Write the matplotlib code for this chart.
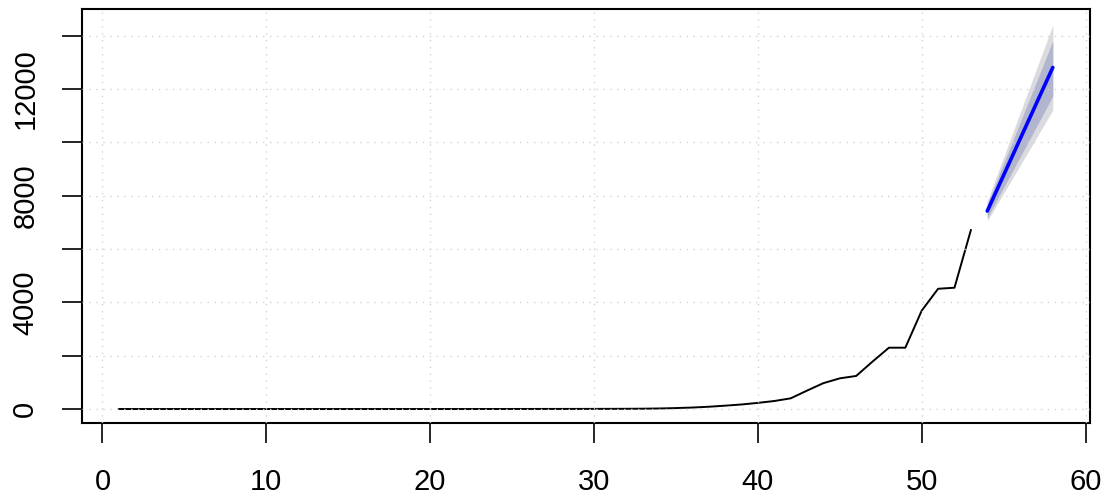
import matplotlib
matplotlib.use("Agg")
import matplotlib.pyplot as plt
import numpy as np

# observed series (time index 1..53)
obs_t = list(range(1, 54))
obs_y = [0, 0, 0, 0, 0, 0, 0, 0, 0, 0,
         0, 0, 0, 0, 0, 0, 0, 0, 0, 0,
         0, 0, 1, 1, 2, 2, 3, 3, 4, 5,
         6, 8, 12, 20, 35, 55, 85, 125, 170, 230,
         300, 400, 690, 970, 1150, 1240, 1780, 2300, 2300, 3690,
         4510, 4550, 6710]

# forecast (time index 54..58)
fc_t = [54, 55, 56, 57, 58]
fc_mean = [7425, 8770, 10120, 11465, 12810]
lo80 = [7170, 8310, 9450, 10590, 11740]
hi80 = [7680, 9210, 10740, 12270, 13810]
lo95 = [7050, 8090, 9130, 10170, 11210]
hi95 = [7800, 9450, 11100, 12750, 14400]

x_ticks = [0, 10, 20, 30, 40, 50, 60]
y_ticks = list(range(0, 14001, 2000))
y_labels = ["0" if v == 0 else (str(v) if v % 4000 == 0 else "") for v in y_ticks]

plt.rcParams['font.family'] = ['Liberation Sans', 'DejaVu Sans']

fig = plt.figure(figsize=(11.09, 4.98), dpi=100)
ax = fig.add_axes([0.0735, 0.150, 0.9095, 0.831])

ax.fill_between(fc_t, lo95, hi95, color='#DBDBDF', linewidth=0, zorder=1)
ax.fill_between(fc_t, lo80, hi80, color='#B1B5CD', linewidth=0, zorder=2)
ax.plot(obs_t, obs_y, color='black', lw=1.4, zorder=3)

# grid drawn on top of the observed line (as in R's grid())
for xv in x_ticks:
    ax.axvline(xv, color='#D3D3D3', lw=1.0, linestyle=(0, (1, 4)), zorder=5)
for yv in y_ticks:
    ax.axhline(yv, color='#D3D3D3', lw=1.0, linestyle=(0, (1, 4)), zorder=5)

ax.plot(fc_t, fc_mean, color='#0000FF', lw=2.6, solid_capstyle='round', zorder=6)

ax.set_xlim(-1.28, 60.28)
ax.set_ylim(-536, 14987)
ax.set_xticks(x_ticks)
ax.set_xticklabels([str(v) for v in x_ticks], fontsize=21)
ax.set_yticks(y_ticks)
ax.set_yticklabels(y_labels, fontsize=21, rotation=90, va='center')
ax.tick_params(axis='both', length=14.4, width=1.2, direction='out', pad=16)
ax.tick_params(axis='x', pad=18)
for s in ax.spines.values():
    s.set_linewidth(1.5)

fig.savefig("out.png", dpi=100)
